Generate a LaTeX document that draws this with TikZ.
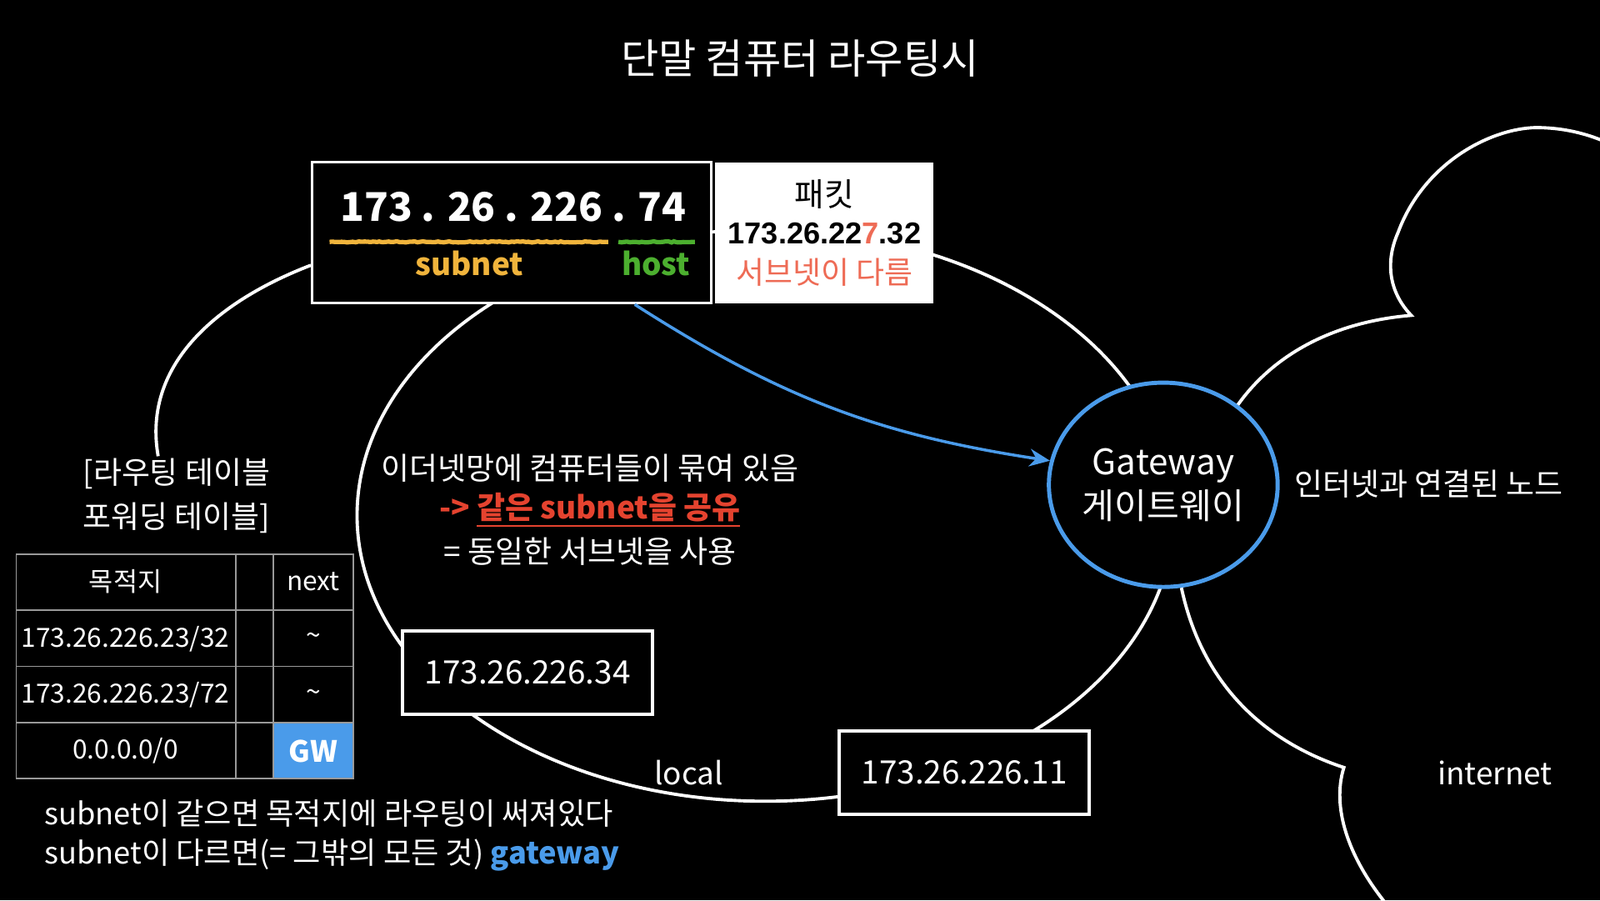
\documentclass[tikz,border=0pt]{standalone}
\usepackage{fontspec}
\setmainfont{Noto Sans CJK KR}
\newfontfamily\arialf{Liberation Sans}
\usetikzlibrary{arrows.meta,positioning,shapes.geometric,decorations.pathmorphing}
\definecolor{gwblue}{HTML}{4A9BEA}
\definecolor{subyellow}{HTML}{F0B43C}
\definecolor{hostgreen}{HTML}{4CAF2F}
\definecolor{diffred}{HTML}{EE6B55}
\definecolor{samered}{HTML}{E5432F}
\newcommand{\fsz}[1]{\fontsize{#1}{1.25\dimexpr#1\relax}\selectfont}
\tikzset{
  wline/.style={white, line width=1.1pt},
  lbl/.style={text=white, inner sep=0pt},
  hostbox/.style={draw=white, line width=1.1pt, fill=black, text=white, inner sep=0pt,
    minimum width=3cm, minimum height=1cm, font=\fsz{11pt}},
  chalk/.style={line width=1.5pt, decorate, decoration={random steps, segment length=1pt, amplitude=0.2pt}},
  cell/.style={text=white, inner sep=0pt, font=\fsz{9pt}},
}
\begin{document}
\begin{tikzpicture}[x=0.01224cm, y=-0.01224cm]
\fill[black] (0,0) rectangle (1568,882);
\useasboundingbox (0,0) rectangle (1568,882);

% title
\node[lbl, font=\fsz{14pt}] (title) at (784,57) {단말 컴퓨터 라우팅시};

% ethernet
\draw[wline] (750,505) ellipse [x radius=4.896cm, y radius=3.427cm];

% ip address
\node[draw=white, line width=0.9pt, fill=black, minimum width=4.786cm, minimum height=1.689cm, inner sep=0pt] (ip) at (501.5,228) {};
\node[lbl, font=\fsz{13.5pt}\bfseries] (ipnum) at (503,203) {173 . 26 . 226 . 74};
\draw[subyellow, chalk] (323,237) -- (596,237);
\draw[hostgreen, chalk] (606,237) -- (681,237);
\node[lbl, text=subyellow, font=\fsz{10.5pt}\bfseries] (subnet) at (460,258) {subnet};
\node[lbl, text=hostgreen, font=\fsz{10.5pt}\bfseries] (host) at (643,258) {host};

% packet
\node[fill=white, minimum width=2.62cm, minimum height=1.689cm, inner sep=0pt] (pkt) at (808,228) {};
\node[inner sep=0pt, font=\fsz{11pt}] (pkttitle) at (808,190) {패킷};
\node[inner sep=0pt, font=\arialf\fsz{10.3pt}\bfseries] (pktnum) at (808,229) {173.26.22\textcolor{diffred}{7}.32};
\node[inner sep=0pt, text=diffred, font=\fsz{10.5pt}] (pktdiff) at (808,267) {서브넷이 다름};

% routing table
\draw[wline] ([yshift=-0.39cm]ip.west) to[out=201, in=100] (155,447) coordinate (rtend);
\node[lbl, font=\fsz{10.5pt}, align=center] (rtlabel) at (173,486) {[라우팅 테이블\\[2pt]포워딩 테이블]};
\fill[gwblue] (268,708) rectangle (346,763);
\draw[gray!80, line width=0.5pt] (16,543) rectangle (346,763);
\foreach \y in {598,653,708} \draw[gray!80, line width=0.5pt] (16,\y) -- (346,\y);
\foreach \x in {231,268} \draw[gray!80, line width=0.5pt] (\x,543) -- (\x,763);
\node[cell] (dst) at (123,570) {목적지};
\node[cell] (nxt) at (307,570) {next};
\node[cell] (r1) at (123,626) {173.26.226.23/32};
\node[cell] (n1) at (307,626) {\textasciitilde};
\node[cell] (r2) at (123,681) {173.26.226.23/72};
\node[cell] (n2) at (307,681) {\textasciitilde};
\node[cell] (r3) at (123,736) {0.0.0.0/0};
\node[cell, font=\fsz{10pt}\bfseries] (n3) at (307,736) {GW};

% notes
\node[lbl, anchor=west, font=\fsz{10.3pt}] (note1) at (43,797) {subnet이 같으면 목적지에 라우팅이 써져있다};
\node[lbl, anchor=west, font=\fsz{10.3pt}] (note2) at (43,838) {subnet이 다르면(= 그밖의 모든 것) \textcolor{gwblue}{\bfseries gateway}};

% lan
\node[lbl, font=\fsz{10.5pt}] (lan1) at (578,459) {이더넷망에 컴퓨터들이 묶여 있음};
\node[lbl, text=samered, font=\fsz{10.5pt}\bfseries] (lan2) at (578,500) {-> \underline{같은 subnet을 공유}};
\node[lbl, font=\fsz{10.5pt}] (lan3) at (578,540) {= 동일한 서브넷을 사용};
\node[hostbox] (h34) at (517,659) {173.26.226.34};
\node[hostbox] (h11) at (945,757) {173.26.226.11};
\node[lbl, font=\fsz{10.5pt}] (local) at (675,757) {local};

% gateway
\node[ellipse, draw=gwblue, line width=1.4pt, fill=black, text=white, minimum width=2.62cm, minimum height=2.45cm, inner sep=0pt, align=center, font=\fsz{12pt}] (gw) at (1140,475) {Gateway\\게이트웨이};
\draw[gwblue, line width=1pt, -{Stealth[length=7pt, width=6pt]}] ([xshift=1.475cm]ip.south) to[bend right=12] (gw.168);
\node[lbl, font=\fsz{10.5pt}] (gwnote) at (1400,474) {인터넷과 연결된 노드};

% internet
\draw[wline] (gw.47) .. controls (1250,345) and (1310,315) .. (1383,309)
  .. controls (1360,285) and (1358,255) .. (1370,228)
  .. controls (1395,160) and (1460,126) .. (1505,125)
  .. controls (1530,125) and (1555,130) .. (1580,142);
\draw[wline] (gw.-80) .. controls (1180,680) and (1250,730) .. (1317,752)
  .. controls (1305,790) and (1320,840) .. (1362,890);
\node[lbl, font=\fsz{10.5pt}] (inet) at (1465,757) {internet};
\end{tikzpicture}
\end{document}
